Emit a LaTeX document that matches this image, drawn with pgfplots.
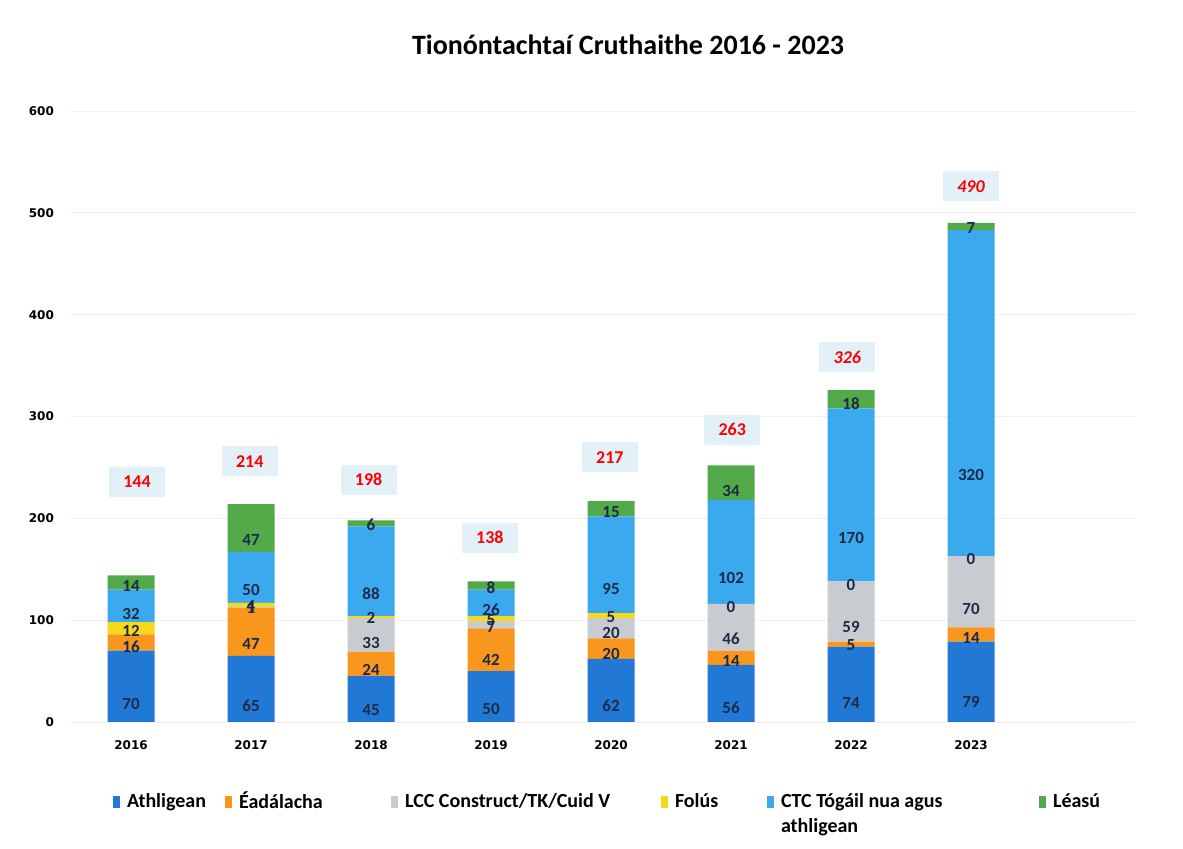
\documentclass[border=0pt]{standalone}
\usepackage{fontspec}
\setmainfont{Carlito}
\newfontfamily\tickfont{DejaVu Sans}
\usepackage{pgfplots}
\usepackage{pgfplotstable}
\pgfplotsset{compat=1.18}
\definecolor{cAth}{HTML}{2279D5}
\definecolor{cEad}{HTML}{F8961E}
\definecolor{cLCC}{HTML}{C8CCD0}
\definecolor{cFol}{HTML}{F8D81C}
\definecolor{cCTC}{HTML}{3BA9EE}
\definecolor{cLea}{HTML}{52AA48}
\definecolor{cLbl}{HTML}{1C2A48}
\definecolor{cBox}{HTML}{E2F0F7}

\pgfplotstableread{
x y lab
0 70 70
1 65 65
2 45 45
3 50 50
4 62 62
5 56 56
6 74 74
7 79 79
}\tAth
\pgfplotstableread{
x y lab
0 16 16
1 47 47
2 24 24
3 42 42
4 20 20
5 14 14
6 5 5
7 14 14
}\tEad
\pgfplotstableread{
x y lab
0 0 {}
1 1 1
2 33 33
3 7 7
4 20 20
5 46 46
6 59 59
7 70 70
}\tLCC
\pgfplotstableread{
x y lab
0 12 12
1 4 4
2 2 2
3 5 5
4 5 5
5 0 {}
6 0 {}
7 0 {}
}\tFol
\pgfplotstableread{
x y lab
0 32 32
1 50 50
2 88 88
3 26 26
4 95 95
5 102 102
6 170 170
7 320 320
}\tCTC
\pgfplotstableread{
x y lab
0 14 14
1 47 47
2 6 6
3 8 8
4 15 15
5 34 34
6 18 18
7 7 7
}\tLea
% labels of the zero-valued Folús segments (at the top of the grey segment)
\pgfplotstableread{
x y lab
5 113 0
6 135 0
7 160 0
}\tFolZero
\pgfplotstableread{
x y lab
0.05 236 144
0.99 256 214
1.98 238 198
2.99 181 138
3.99 260 217
5.01 287 263
}\tTot
\pgfplotstableread{
x y lab
5.97 358 326
7.0 526 490
}\tTotI

\begin{document}
\begin{tikzpicture}[x=1pt,y=1pt]
\useasboundingbox (-35.5,-63.5) rectangle (556,361);
\begin{axis}[
  at={(0,0)}, anchor=south west,
  x=60pt, y=0.50917pt,
  xmin=-0.5, xmax=8.37, ymin=0, ymax=600,
  ybar stacked, bar width=23.5pt,
  axis line style={draw=none},
  major tick length=0pt,
  ytick={0,100,200,300,400,500,600},
  xtick={0,1,2,3,4,5,6,7},
  xticklabels={2016,2017,2018,2019,2020,2021,2022,2023},
  ymajorgrids, grid style={draw=black!6},
  tick label style={font=\tickfont\bfseries\fontsize{6}{7}\selectfont},
  /pgf/number format/assume math mode=true,
  yticklabel style={anchor=east, xshift=-5pt},
  xticklabel style={anchor=center, yshift=-11.5pt},
  nodes near coords,
  point meta=explicit symbolic,
  visualization depends on={rawy \as \rawy},
  every node near coord/.append style={anchor=center, inner sep=0pt,
     font=\bfseries\fontsize{8.5}{9}\selectfont, text=cLbl,
     yshift={-0.1272925pt*\rawy}},
  legend columns=6,
  legend cell align=left,
  legend style={at={(0.0395,-0.1146)}, anchor=north west, draw=none, fill=none,
     inner sep=0pt, outer sep=0pt, column sep=0pt, row sep=0pt,
     nodes={inner sep=0pt},
     font=\bfseries\fontsize{10}{12.5}\selectfont,
     /tikz/every odd column/.append style={column sep=3.5pt}},
  legend image code/.code={\fill[#1] (0pt,-3pt) rectangle (3.5pt,3pt);},
]
\addplot[fill=cAth, draw=none] table[x=x, y=y, meta=lab] {\tAth};
\addlegendentry{\makebox[49pt][l]{Athligean}}
\addplot[fill=cEad, draw=none] table[x=x, y=y, meta=lab] {\tEad};
\addlegendentry{\makebox[76pt][l]{Éadálacha}}
\addplot[fill=cLCC, draw=none] table[x=x, y=y, meta=lab] {\tLCC};
\addlegendentry{\makebox[128pt][l]{LCC Construct/TK/Cuid V}}
\addplot[fill=cFol, draw=none] table[x=x, y=y, meta=lab] {\tFol};
\addlegendentry{\makebox[46pt][l]{Folús}}
\addplot[fill=cCTC, draw=none] table[x=x, y=y, meta=lab] {\tCTC};
\addlegendentry{\makebox[129pt][l]{\rlap{\smash{\raisebox{-12.5pt}{athligean}}}CTC Tógáil nua agus}}
\addplot[fill=cLea, draw=none] table[x=x, y=y, meta=lab] {\tLea};
\addlegendentry{Léasú}
\end{axis}
\begin{axis}[
  at={(0,0)}, anchor=south west,
  x=60pt, y=0.50917pt,
  xmin=-0.5, xmax=8.37, ymin=0, ymax=600,
  hide axis, clip=false,
  nodes near coords,
  point meta=explicit symbolic,
]
\addplot[draw=none, mark=none, nodes near coords style={anchor=center, inner sep=0pt, text=cLbl, font=\bfseries\fontsize{8.5}{9}\selectfont}] table[x=x, y=y, meta=lab] {\tFolZero};
\addplot[draw=none, mark=none, nodes near coords style={anchor=center, fill=cBox, text=red,
     minimum width=28pt, minimum height=15pt, inner sep=0pt, font=\bfseries\fontsize{9}{10}\selectfont}] table[x=x, y=y, meta=lab] {\tTot};
\addplot[draw=none, mark=none, nodes near coords style={anchor=center, fill=cBox, text=red,
     minimum width=28pt, minimum height=15pt, inner sep=0pt, font=\bfseries\itshape\fontsize{9}{10}\selectfont}] table[x=x, y=y, meta=lab] {\tTotI};
\end{axis}
\node[font=\bfseries\fontsize{14}{16}\selectfont] at (278.5,338.5) {Tionóntachtaí Cruthaithe 2016 - 2023};
\end{tikzpicture}
\end{document}
